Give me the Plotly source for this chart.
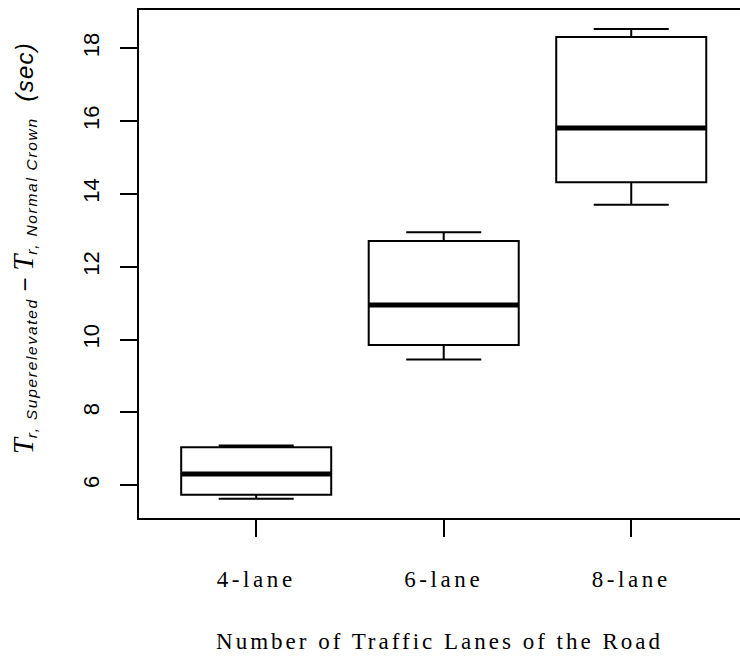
import plotly.graph_objects as go

# Summary statistics of the travel-time difference per road type
categories = ["4-lane", "6-lane", "8-lane"]
positions = [1, 2, 3]
lower_whisker = [5.63, 9.45, 13.70]
q1 = [5.74, 9.85, 14.32]
median = [6.31, 10.95, 15.81]
q3 = [7.04, 12.71, 18.31]
upper_whisker = [7.09, 12.95, 18.53]

y_ticks = [6, 8, 10, 12, 14, 16, 18]

x_title = "Number of Traffic Lanes of the Road"

box_width = 0.8

fig = go.Figure()

fig.add_trace(go.Box(
    x=positions,
    q1=q1,
    median=median,
    q3=q3,
    lowerfence=lower_whisker,
    upperfence=upper_whisker,
    width=box_width,
    whiskerwidth=0.5,
    fillcolor="white",
    line=dict(color="black", width=2),
    boxpoints=False,
    hoverinfo="skip",
    showlegend=False,
))

# Heavy median bars drawn over each box
for xp, m in zip(positions, median):
    fig.add_trace(go.Scatter(
        x=[xp - box_width / 2, xp + box_width / 2],
        y=[m, m],
        mode="lines",
        line=dict(color="black", width=5),
        hoverinfo="skip",
        showlegend=False,
    ))

serif_t = "font-family:'Liberation Serif';font-size:29px;font-style:italic"
sub_style = ("font-family:'Liberation Sans Narrow','Liberation Sans';"
             "font-size:15.5px;font-style:italic;letter-spacing:1.7px")
ylabel = (
    f'<span style="{serif_t}">T</span>'
    f'<sub><span style="{sub_style}">r, Superelevated</span></sub>'
    '<span style="font-family:\'Liberation Sans\';font-size:24px"> \u2212 </span>'
    f'<span style="{serif_t}">T</span>'
    f'<sub><span style="{sub_style}">r, Normal Crown</span></sub>'
    '<span style="font-family:\'Liberation Sans\';font-size:24px;font-style:italic;'
    'letter-spacing:1.2px">  (sec)</span>'
)

fig.add_annotation(
    text=ylabel,
    xref="paper", yref="paper",
    x=-0.192, y=0.53,
    xanchor="center", yanchor="middle",
    textangle=-90,
    showarrow=False,
    font=dict(family="Liberation Sans", size=22, color="black"),
)

# Wide-set serif lettering for the category axis
def spaced(text, spacing):
    return f'<span style="letter-spacing:{spacing}px">{text}</span>'

serif_font = dict(family="Liberation Serif", size=23, color="black")

fig.update_layout(
    width=740,
    height=660,
    margin=dict(l=139, r=0, t=10, b=142),
    paper_bgcolor="white",
    plot_bgcolor="white",
    xaxis=dict(
        range=[0.375, 3.58],
        tickmode="array",
        tickvals=positions,
        ticktext=[spaced(c, 3.6) for c in categories],
        ticks="outside",
        ticklen=17,
        tickwidth=2,
        tickcolor="black",
        showline=True,
        linecolor="black",
        linewidth=2,
        mirror=True,
        showgrid=False,
        zeroline=False,
        ticklabelstandoff=22,
        tickfont=serif_font,
        title=dict(
            text=spaced(x_title, 3.0),
            font=serif_font,
            standoff=42,
        ),
    ),
    yaxis=dict(
        range=[5.10, 19.05],
        tickmode="array",
        tickvals=y_ticks,
        ticks="outside",
        ticklen=17,
        tickwidth=2,
        tickcolor="black",
        showline=True,
        linecolor="black",
        linewidth=2,
        mirror=False,
        showgrid=False,
        zeroline=False,
        tickangle=-90,
        ticklabelstandoff=12,
        tickfont=dict(family="Liberation Sans", size=22, color="black"),
    ),
)

fig.write_html("out.html")
